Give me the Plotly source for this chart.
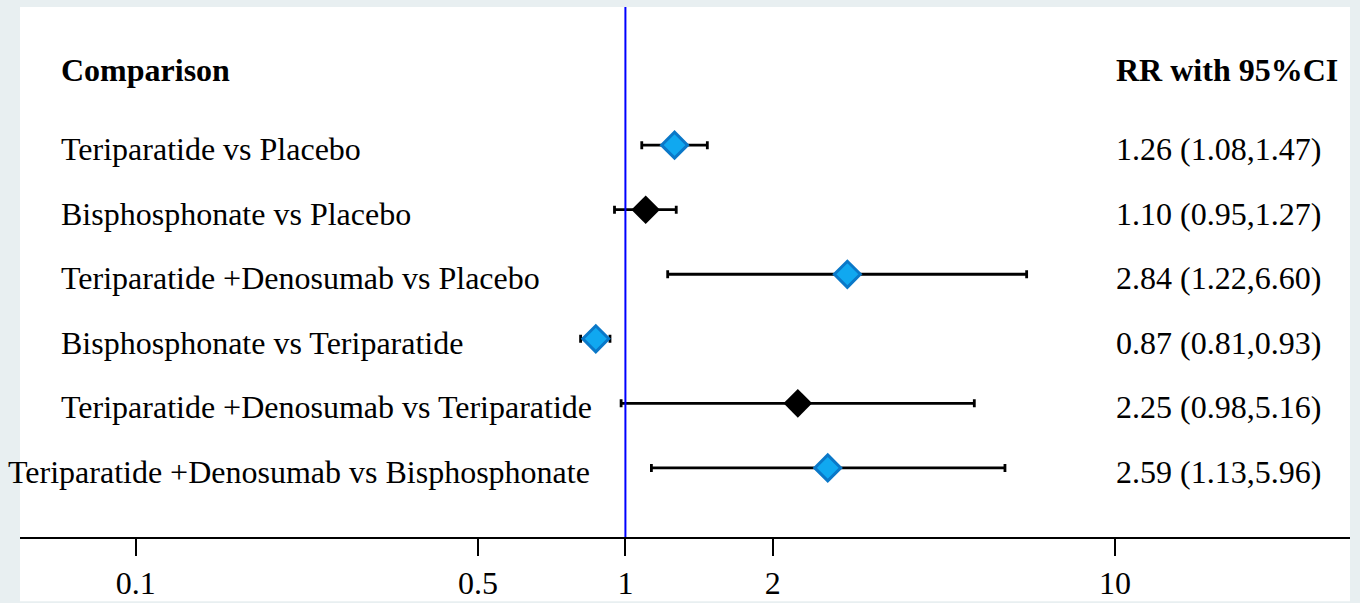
import plotly.graph_objects as go
import numpy as np

comparisons = [
    "Teriparatide vs Placebo",
    "Bisphosphonate vs Placebo",
    "Teriparatide +Denosumab vs Placebo",
    "Bisphosphonate vs Teriparatide",
    "Teriparatide +Denosumab vs Teriparatide",
    "Teriparatide +Denosumab vs Bisphosphonate",
]
rr = [1.26, 1.10, 2.84, 0.87, 2.25, 2.59]
lower = [1.08, 0.95, 1.22, 0.81, 0.98, 1.13]
upper = [1.47, 1.27, 6.60, 0.93, 5.16, 5.96]
tick_vals = [0.1, 0.5, 1, 2, 10]
tick_text = ["0.1", "0.5", "1", "2", "10"]

FONT = "Liberation Serif"
FS = 32
rows = list(range(len(comparisons)))
significant = [not (lo <= 1 <= up) for lo, up in zip(lower, upper)]

fig = go.Figure()

# white panel
fig.add_shape(type="rect", xref="paper", yref="paper", x0=0, x1=1, y0=-0.121, y1=1,
              fillcolor="white", line=dict(width=0), layer="below")

# reference line at 1
fig.add_shape(type="line", xref="x", yref="paper", x0=1, x1=1, y0=0, y1=1,
              line=dict(color="#0000ff", width=2))

for i in rows:
    fig.add_trace(go.Scatter(
        x=[rr[i]], y=[i], mode="markers",
        error_x=dict(type="data", symmetric=False,
                     array=[upper[i] - rr[i]], arrayminus=[rr[i] - lower[i]],
                     color="black", thickness=2.8, width=4),
        marker=dict(symbol="diamond", size=20 if significant[i] else 22,
                    color="#10a8f0" if significant[i] else "black",
                    line=dict(color="#0a78c8" if significant[i] else "black",
                              width=3 if significant[i] else 0)),
        showlegend=False, hoverinfo="skip"))

ann = []
for i in rows:
    txt = comparisons[i]
    if i == len(comparisons) - 1:
        ann.append(dict(x=0, y=i, xref="paper", yref="y", text=txt, showarrow=False,
                        xanchor="right", xshift=592 - 20, yshift=-4,
                        font=dict(family=FONT, size=FS, color="black")))
    else:
        ann.append(dict(x=0, y=i, xref="paper", yref="y", text=txt, showarrow=False,
                        xanchor="left", xshift=39, yshift=-4,
                        font=dict(family=FONT, size=FS, color="black")))
    ann.append(dict(x=1, y=i, xref="paper", yref="y",
                    text=f"{rr[i]:.2f} ({lower[i]:.2f},{upper[i]:.2f})", showarrow=False,
                    xanchor="left", xshift=1114 - 1350, yshift=-4,
                    font=dict(family=FONT, size=FS, color="black")))

ann.append(dict(x=0, y=-1.16, xref="paper", yref="y", text="<b>Comparison</b>", showarrow=False,
                xanchor="left", xshift=39, font=dict(family=FONT, size=FS, color="black")))
ann.append(dict(x=1, y=-1.16, xref="paper", yref="y", text="<b>RR with 95%CI</b>", showarrow=False,
                xanchor="left", xshift=1114 - 1350, font=dict(family=FONT, size=FS, color="black")))

fig.update_layout(
    width=1360, height=603,
    margin=dict(l=20, r=10, t=7, b=66, autoexpand=False),
    paper_bgcolor="#e8eff1", plot_bgcolor="rgba(0,0,0,0)",
    annotations=ann,
    xaxis=dict(type="log", range=[np.log10(0.058), np.log10(30.2)],
               tickvals=tick_vals, ticktext=tick_text,
               showline=True, linecolor="black", linewidth=2,
               ticks="outside", ticklen=17, tickwidth=2, tickcolor="black",
               showgrid=False, zeroline=False, automargin=False,
               tickfont=dict(family=FONT, size=FS, color="black")),
    yaxis=dict(range=[6.07, -2.14], visible=False, showgrid=False, zeroline=False),
)

fig.write_html("out.html", config={"displayModeBar": False},
               post_script="document.body.style.margin='0';document.body.style.padding='0';"
                           "document.body.style.background='#e8eff1';")
